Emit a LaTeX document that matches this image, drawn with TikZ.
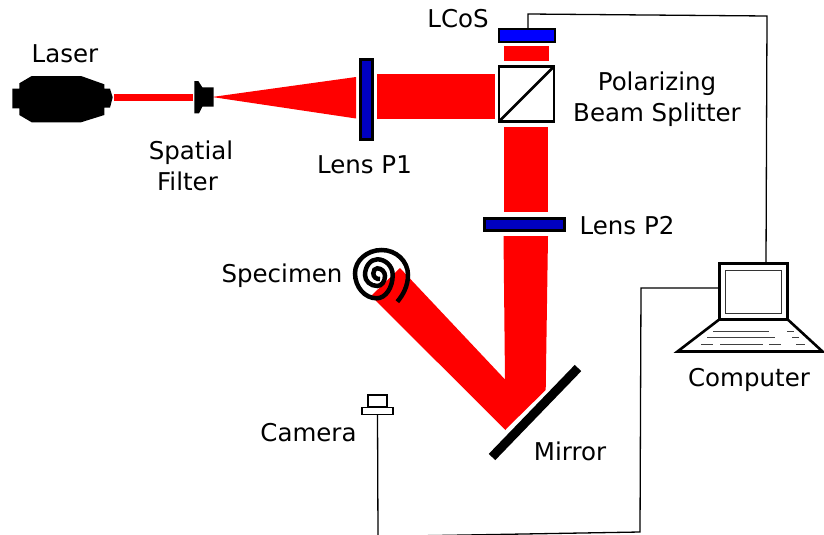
\documentclass[tikz,border=0pt]{standalone}
\usepackage{fontspec}
\setmainfont{DejaVu Sans}
\definecolor{beam}{RGB}{255,0,0}
\definecolor{lensblue}{RGB}{0,0,192}
\definecolor{lcosblue}{RGB}{0,0,255}
\tikzset{
  beamfill/.style={fill=beam,draw=none},
  solidblack/.style={fill=black,draw=none},
  label/.style={font=\fontsize{24.5}{30.5}\selectfont,inner sep=0pt,align=center,text=black},
  box/.style={draw=black,inner sep=0pt,outer sep=0pt,rectangle},
  wire/.style={draw=black,line width=1.3pt,line join=miter},
  keys/.style={draw=black!75,line width=1.2pt}
}
\begin{document}
\begin{tikzpicture}[x=1pt,y=-1pt]
\useasboundingbox (0,0) rectangle (824,535);
% beams
\fill[beamfill] (114,93.5) rectangle (193,101);
\fill[beamfill] (212,97) -- (356,77) -- (356,118.5) -- cycle;
\fill[beamfill] (377,74) rectangle (495,118.7);
\fill[beamfill] (504,46) rectangle (549,60.7);
\fill[beamfill] (503.5,126.5) rectangle (548,212);
\fill[beamfill] (503.5,236) -- (548,236) -- (545.7,390) -- (505,430) -- (505,380) -- cycle;
\fill[beamfill] (371,296) -- (400,268) -- (505.5,380) -- (505.5,430) -- cycle;
% laser
\fill[solidblack] (12.3,88.7) -- (19.3,88.7) -- (19.3,83.3) -- (31.7,76) -- (81,76) -- (104.3,84.3) -- (104.3,88.7) -- (110,88.7) -- (112.7,97.3) -- (110,107.7) -- (104.3,107.7) -- (104.3,115) -- (81,122.3) -- (31.7,122.3) -- (19.3,115) -- (19.3,108.3) -- (12.3,108.3) -- cycle;
% spatial filter
\fill[solidblack] (194.3,81) -- (198.3,81) -- (202.3,87.3) -- (213.7,87.3) -- (213.7,106.7) -- (202.3,106.7) -- (199,113.3) -- (194.3,113.3) -- cycle;
% lenses and LCoS
\node[box,line width=3pt,fill=lensblue,minimum width=12pt,minimum height=80pt] (lensone) at (366.5,99.5) {};
\node[box,line width=3pt,fill=lensblue,minimum width=80pt,minimum height=12pt] (lenstwo) at (524,224.5) {};
\node[box,line width=1.6pt,fill=lcosblue,minimum width=56pt,minimum height=12.5pt] (lcos) at (527,35.5) {};
% beam splitter
\node[box,line width=2.6pt,minimum width=55pt,minimum height=55pt] (cube) at (526.5,94) {};
\draw[black,line width=2.6pt] (cube.south west) -- (cube.north east);
% specimen
\draw[black,line width=4.5pt] (397.3,301.7)
  .. controls (403,295) and (408,286) .. (408,275)
  .. controls (408,261.2) and (396.2,250) .. (381.7,250)
  .. controls (367,250) and (355,260.5) .. (355,273.3)
  .. controls (355,287) and (364.8,298.3) .. (376.7,298.3)
  .. controls (385.5,298.3) and (392.7,287.8) .. (392.7,275)
  .. controls (392.7,266.4) and (385.8,259.3) .. (377.3,259.3)
  .. controls (370.5,259.3) and (365,266.4) .. (365,275)
  .. controls (365,281) and (370.5,286) .. (377.3,286)
  .. controls (381.5,286) and (385,281.5) .. (385,276)
  .. controls (385,271.8) and (381.5,268.3) .. (377.3,268.3)
  .. controls (375,268.3) and (373.3,270.5) .. (373.3,273.3)
  .. controls (373.3,277) and (376.5,279.5) .. (380,279);
% mirror
\coordinate (mirrorA) at (578,368);
\coordinate (mirrorB) at (492,457);
\draw[black,line width=9pt] (mirrorA) -- (mirrorB);
% camera
\node[box,line width=1.8pt,minimum width=19pt,minimum height=11.5pt] (camtop) at (377.5,401) {};
\node[box,line width=1.8pt,minimum width=31pt,minimum height=7pt] (camera) at (377.5,411) {};
% computer
\node[box,line width=2.8pt,minimum width=68pt,minimum height=56pt] (laptop) at (753.5,291.3) {};
\node[box,line width=1.4pt,draw=black!80,minimum width=56pt,minimum height=43pt] (screen) at (753.7,291.7) {};
\draw[black,line width=2.6pt,line join=miter] (laptop.south west) -- (677.5,351.5) -- (822.5,351.5) -- (laptop.south east);
\draw[keys] (713,331.5) -- (769,331.5) (787,331.5) -- (794,331.5);
\draw[keys] (707,337.5) -- (775,337.5) (792,337.5) -- (799,337.5);
\draw[keys] (701,344.5) -- (713,344.5) (720,344.5) -- (763,344.5) (769,344.5) -- (781,344.5) (796,344.5) -- (805,344.5);
% wires
\coordinate (wireA) at (528,14);
\coordinate (wireB) at (767,16);
\coordinate (wireC) at (378,536.5);
\coordinate (wireD) at (640,532);
\coordinate (wireE) at (641,288);
\draw[wire] ([xshift=1pt]lcos.north) -- (wireA) -- (wireB) -- ([xshift=12.5pt]laptop.north);
\draw[wire] (camera.south) -- (wireC) -- (wireD) -- (wireE) -- (laptop.west |- wireE);
% labels
\node[label] (tlaser) at (65,53.5) {Laser};
\node[label] (tfilter) at (191,166) {Spatial\\\hspace*{-7pt}Filter};
\node[label] (tlensone) at (364.5,165) {Lens P1};
\node[label] (tlcos) at (458,19) {LCoS};
\node[label] (tpbs) at (657,99) {Polarizing\\Beam Splitter};
\node[label] (tlenstwo) at (627,225.5) {Lens P2};
\node[label] (tspec) at (282,275.5) {Specimen};
\node[label] (tcam) at (308.5,433) {Camera};
\node[label] (tcomp) at (749,380) {Computer};
\node[label] (tmirror) at (570,451) {Mirror};
\end{tikzpicture}
\end{document}
